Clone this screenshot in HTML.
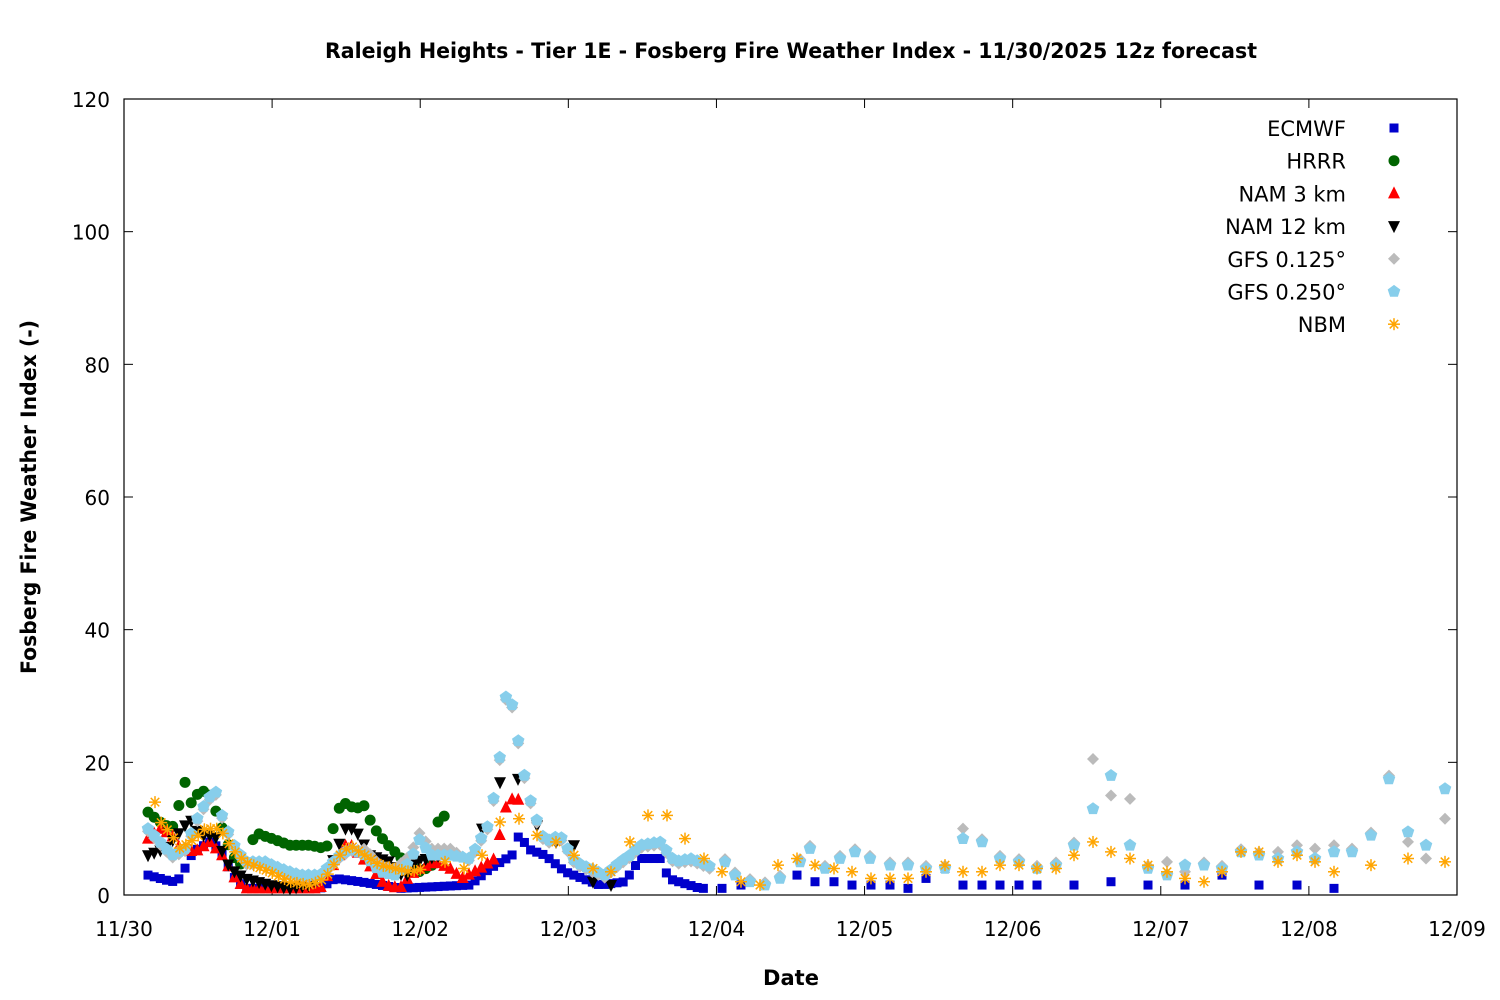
<!DOCTYPE html><html><head><meta charset="utf-8"><style>body{margin:0;background:#fff}svg{display:block;font-family:"DejaVu Sans","Liberation Sans",sans-serif}</style></head><body>
<svg id="s" width="1500" height="1000" xmlns="http://www.w3.org/2000/svg">
<rect width="1500" height="1000" fill="#fff"/>
<text x="791" y="58" font-size="21" font-weight="bold" text-anchor="middle" textLength="932" lengthAdjust="spacingAndGlyphs">Raleigh Heights - Tier 1E - Fosberg Fire Weather Index - 11/30/2025 12z forecast</text>
<text x="791" y="985" font-size="21" font-weight="bold" text-anchor="middle">Date</text>
<text transform="translate(36,497) rotate(-90)" font-size="21" font-weight="bold" text-anchor="middle" textLength="354" lengthAdjust="spacingAndGlyphs">Fosberg Fire Weather Index (-)</text>
<g id="ax"></g><g id="pts"></g><g id="leg" font-size="21" text-anchor="end"></g>
<rect x="124" y="99" width="1333" height="796" fill="none" stroke="#000" stroke-width="1.2"/>
</svg>
<script>
const NS="http://www.w3.org/2000/svg";
function el(p,t,a,txt){const e=document.createElementNS(NS,t);for(const k in a)e.setAttribute(k,a[k]);if(txt!==undefined)e.textContent=txt;p.appendChild(e);return e;}
const ax=document.getElementById('ax'),pts=document.getElementById('pts'),leg=document.getElementById('leg');
const X0=124,X1=1457,Y0=895,Y1=99;const yv=v=>Y0-v*(Y0-Y1)/120;
for(let v=0;v<=120;v+=20){const y=yv(v);el(ax,'line',{x1:124,x2:133,y1:y,y2:y,stroke:'#000'});el(ax,'line',{x1:1448,x2:1457,y1:y,y2:y,stroke:'#000'});el(ax,'text',{x:110,y:y+8,'font-size':20,'text-anchor':'end'},v);}
const d=['11/30','12/01','12/02','12/03','12/04','12/05','12/06','12/07','12/08','12/09'];
d.forEach((t,i)=>{const x=X0+i*(X1-X0)/9;el(ax,'line',{x1:x,x2:x,y1:895,y2:886,stroke:'#000'});el(ax,'line',{x1:x,x2:x,y1:99,y2:108,stroke:'#000'});el(ax,'text',{x:x,y:936,'font-size':20,'text-anchor':'middle'},t);});
function interp(a,x){for(let i=0;i<a.length-1;i++){if(x>=a[i][0]&&x<=a[i+1][0]){const t=(x-a[i][0])/(a[i+1][0]-a[i][0]);return a[i][1]+t*(a[i+1][1]-a[i][1]);}}return a[a.length-1][1];}
function series(anch,x0,x1,step,extra){const r=[];for(let x=x0;x<=x1+0.1;x+=step)r.push([x,interp(anch,x)]);return r.concat(extra||[]);}
const H=148.1/24;
function mk(g,type,x,y,c){const s=6;
if(type=='sq')el(g,'rect',{x:x-4.5,y:y-4.5,width:9,height:9,fill:c});
else if(type=='ci')el(g,'circle',{cx:x,cy:y,r:5.5,fill:c});
else if(type=='tu')el(g,'polygon',{points:`${x},${y-s-1} ${x+s},${y+s-1} ${x-s},${y+s-1}`,fill:c});
else if(type=='td')el(g,'polygon',{points:`${x},${y+s+1} ${x+s},${y-s+1} ${x-s},${y-s+1}`,fill:c});
else if(type=='di')el(g,'polygon',{points:`${x},${y-s} ${x+s},${y} ${x},${y+s} ${x-s},${y}`,fill:c});
else if(type=='pe'){let p=[];for(let i=0;i<5;i++){const a=-Math.PI/2+i*2*Math.PI/5;p.push((x+s*1.1*Math.cos(a)).toFixed(1)+','+(y+s*1.1*Math.sin(a)).toFixed(1));}el(g,'polygon',{points:p.join(' '),fill:c});}
else if(type=='st'){for(let i=0;i<4;i++){const a=i*Math.PI/4;el(g,'line',{x1:x-s*Math.cos(a),y1:y-s*Math.sin(a),x2:x+s*Math.cos(a),y2:y+s*Math.sin(a),stroke:c,'stroke-width':1.5});}}}
const ecm=series([[148,3],[172,2],[180,2.5],[193,6.5],[210,8],[220,7],[232,3],[245,1],[320,1],[335,2.5],[360,2],[400,1],[470,1.5],[490,4],[512,6],[520,9.5],[527,7],[545,6],[565,3.5],[600,1.5],[625,2],[640,5.5],[662,5.5],[668,2.5],[700,1]],148,705,H,[[722,1],[741,1.5],[797,3],[815,2],[834,2],[852,1.5],[871,1.5],[890,1.5],[908,1],[926,2.5],[945,4],[963,1.5],[982,1.5],[1000,1.5],[1019,1.5],[1037,1.5],[1074,1.5],[1111,2],[1148,1.5],[1185,1.5],[1222,3],[1259,1.5],[1297,1.5],[1334,1]]);
const hrrr=series([[148,12.5],[160,11],[172,10],[178,13],[185,17],[192,13.5],[200,16],[210,15],[220,11],[232,6],[245,4],[255,9.5],[262,9],[272,8.5],[290,7.5],[310,7.5],[325,7],[330,8],[337,12.5],[343,14],[355,13],[365,13.5],[372,10.5],[385,8],[395,6.5],[405,5],[420,3.5],[432,4.5],[438,11],[445,12]],148,445,H);
const nam3=series([[148,8.5],[160,10],[172,9],[180,7],[195,6.5],[210,8],[222,6],[235,2.5],[245,1],[320,1],[335,5],[348,8],[360,6],[372,4],[385,1.5],[400,1],[410,3],[420,4],[435,5],[450,4],[462,2.5],[480,4],[495,5.5],[505,13],[515,15],[520,14]],148,520,H);
const nam12=series([[148,6],[165,7],[180,9.5],[190,11.5],[200,9],[215,9],[230,4],[245,2.5],[270,1.5],[290,1],[310,1.5],[330,4],[345,10],[355,10],[370,6],[390,5],[405,2.5],[415,5],[440,6]],148,440,H,[[482,10],[500,17],[518,17.5],[537,10.5],[556,8],[574,7.5],[593,2],[611,1.5]]);
const gA=[[148,10],[160,8],[172,6],[185,7],[200,12.5],[215,16],[222,12],[232,8],[245,5],[265,5],[280,4],[300,3],[320,3],[340,6],[350,7],[365,6],[380,3.5],[395,3],[410,5],[420,8.5],[430,6],[450,6],[470,5.5],[490,11],[500,21],[505,30],[513,28.5],[520,21.5],[527,16],[535,12],[545,8],[560,9],[575,5],[590,4],[605,3],[620,5],[630,6],[640,7.5],[660,8],[675,5],[690,5.5],[700,5],[715,4]];
const gB=[[725,5],[735,3],[750,2],[765,1.5],[780,2.5],[800,5],[810,7],[825,4],[840,5.5],[855,6.5],[870,5.5],[890,4.5],[908,4.5],[926,4],[945,4],[963,8.5],[982,8],[1000,5.5],[1019,5],[1037,4],[1056,4.5],[1074,7.5],[1093,13],[1111,18],[1130,7.5],[1148,4],[1167,3],[1185,4.5],[1204,4.5],[1222,4],[1241,6.5],[1259,6],[1278,5.5],[1297,6.5],[1315,5.5],[1334,6.5],[1352,6.5],[1371,9],[1389,17.5],[1408,9.5],[1426,7.5],[1445,16]];
const g25=series(gA,148,715,H,gB);
const over={963:10,1093:20.5,1111:15,1130:14.5,1389:18,1445:11.5,1426:5.5,1408:8,1167:5,1185:3.5,1278:6.5,1297:7.5,1315:7,1334:7.5,1352:7};
const g125=series(gA.map(p=>[p[0],p[0]>350&&p[0]<470?p[1]+1:p[1]-0.4]),148,715,H,gB.map(p=>[p[0],over[p[0]]!==undefined?over[p[0]]:p[1]+0.4]));
const nbm=series([[155,14],[162,10.5],[170,9.5],[180,7],[195,8.5],[205,10],[220,10],[232,7],[245,5],[270,3.5],[290,2],[310,1.5],[325,2.5],[340,6],[350,7.5],[365,6],[380,4.5],[395,4],[410,3.5],[425,4]],155,425,H,[[445,5],[464,4],[482,6],[500,11],[519,11.5],[537,9],[556,8],[574,6],[593,4],[611,3.5],[630,8],[648,12],[667,12],[685,8.5],[704,5.5],[722,3.5],[741,2],[760,1.5],[778,4.5],[797,5.5],[815,4.5],[834,4],[852,3.5],[871,2.5],[890,2.5],[908,2.5],[926,3.5],[945,4.5],[963,3.5],[982,3.5],[1000,4.5],[1019,4.5],[1037,4],[1056,4],[1074,6],[1093,8],[1111,6.5],[1130,5.5],[1148,4.5],[1167,3.5],[1185,2.5],[1204,2],[1222,3.5],[1241,6.5],[1259,6.5],[1278,5],[1297,6],[1315,5],[1334,3.5],[1371,4.5],[1408,5.5],[1445,5]]);
const S=[['ECMWF','sq','#0000cc',ecm],['HRRR','ci','#006400',hrrr],['NAM 3 km','tu','#ff0000',nam3],['NAM 12 km','td','#000000',nam12],['GFS 0.125°','di','#bbbbbb',g125],['GFS 0.250°','pe','#87ceeb',g25],['NBM','st','#ffa500',nbm]];
S.forEach((s,i)=>{const g=el(pts,'g',{});s[3].forEach(p=>mk(g,s[1],p[0],yv(Math.max(p[1],0.8)),s[2]));
const ly=128+i*32.7;el(leg,'text',{x:1346,y:ly+8},s[0]);mk(pts,s[1],1394,ly,s[2]);});
</script>
</body></html>
